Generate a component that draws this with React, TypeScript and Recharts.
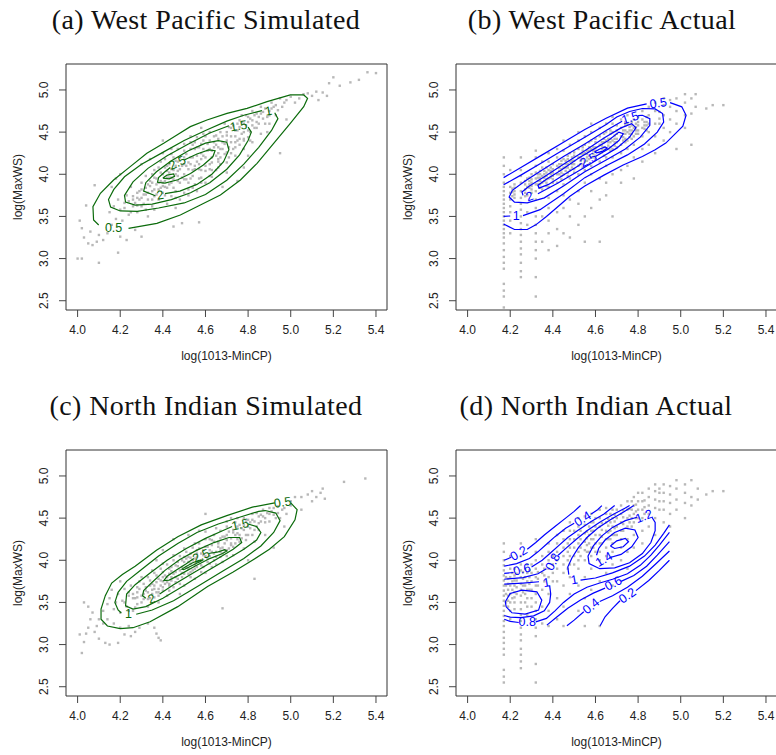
import React from 'react';
import { ScatterChart, Scatter, XAxis, YAxis, ReferenceArea } from 'recharts';

type Pt = [number, number];
type Lbl = [number, number, string, number];

const X_TICKS = [4.0, 4.2, 4.4, 4.6, 4.8, 5.0, 5.2, 5.4];
const Y_TICKS = [2.5, 3.0, 3.5, 4.0, 4.5, 5.0];
const X_DOMAIN: [number, number] = [3.9456, 5.4517];
const Y_DOMAIN: [number, number] = [2.39, 5.308];

const GREEN = '#0b6b0b';
const BLUE = '#0000ff';
const GREY = '#b8b8b8';
const SANS = '"Liberation Sans", Arial, Helvetica, sans-serif';

// (a) West Pacific simulated: storm points
const A_POINTS: Pt[] = [
  [4.0, 3.0], [4.02, 3.0], [4.1, 2.95], [4.03, 3.25], [4.05, 3.18], [4.07, 3.16], [4.09, 3.2], [4.12, 3.22], [4.19, 3.07],
  [4.01, 3.45], [4.04, 3.63], [4.08, 3.87], [4.02, 3.36], [4.06, 3.32], [4.1, 3.28], [4.14, 3.3], [4.16, 3.4], [4.18, 3.47],
  [4.2, 3.26], [4.23, 3.22], [4.27, 3.34], [4.3, 3.26],
  [4.15, 3.55], [4.17, 3.62], [4.19, 3.7], [4.2, 3.58], [4.22, 3.66], [4.23, 3.75], [4.24, 3.52], [4.18, 3.95], [4.2, 4.0],
  [4.16, 3.85], [4.25, 3.85], [4.26, 3.62], [4.21, 3.45],
  [4.28, 3.72], [4.29, 3.8], [4.3, 3.9], [4.31, 3.65], [4.32, 3.98], [4.33, 3.78], [4.34, 3.86], [4.35, 3.7], [4.36, 4.05],
  [4.3, 4.12], [4.28, 3.55], [4.33, 3.5], [4.36, 3.58], [4.34, 4.18],
  [4.38, 3.82], [4.39, 3.92], [4.4, 4.0], [4.41, 3.75], [4.42, 4.1], [4.43, 3.88], [4.44, 3.96], [4.45, 4.05], [4.46, 3.8],
  [4.47, 4.15], [4.4, 4.25], [4.44, 4.3], [4.48, 3.9], [4.42, 3.65], [4.46, 3.6], [4.49, 3.42], [4.45, 3.38], [4.4, 4.4],
  [4.37, 3.95], [4.41, 3.85], [4.43, 4.02], [4.47, 3.98], [4.39, 4.15], [4.45, 4.2],
  [4.5, 4.0], [4.51, 4.1], [4.52, 3.9], [4.53, 4.2], [4.54, 4.05], [4.55, 4.3], [4.56, 4.15], [4.57, 3.95], [4.58, 4.25],
  [4.59, 4.4], [4.6, 4.1], [4.52, 3.75], [4.56, 3.8], [4.6, 3.9], [4.53, 4.45], [4.57, 3.43], [4.58, 4.55],
  [4.5, 4.2], [4.54, 4.35], [4.58, 4.05], [4.55, 3.88],
  [4.62, 4.3], [4.63, 4.2], [4.64, 4.45], [4.65, 4.35], [4.66, 4.15], [4.67, 4.5], [4.68, 4.3], [4.69, 4.6], [4.7, 4.4],
  [4.71, 4.2], [4.72, 4.55], [4.65, 4.05], [4.68, 3.85], [4.63, 3.97], [4.7, 4.02], [4.62, 4.5], [4.66, 4.25],
  [4.74, 4.45], [4.75, 4.6], [4.76, 4.35], [4.77, 4.7], [4.78, 4.5], [4.8, 4.62], [4.81, 4.4], [4.82, 4.75], [4.83, 4.55],
  [4.85, 4.68], [4.86, 4.8], [4.75, 3.92], [4.8, 4.22], [4.78, 4.08],
  [4.88, 4.6], [4.9, 4.75], [4.91, 4.85], [4.93, 4.7], [4.95, 4.9], [4.96, 4.8], [4.98, 4.88], [5.0, 4.92], [5.02, 4.85],
  [4.95, 4.25], [4.98, 4.65], [5.04, 4.9], [5.06, 4.95], [4.89, 4.5],
  [5.08, 4.96], [5.1, 4.93], [5.12, 4.98], [5.15, 4.97], [5.17, 4.93], [5.18, 5.08], [5.2, 5.15], [5.23, 5.05],
  [5.28, 5.09], [5.32, 5.12], [5.36, 5.21], [5.4, 5.2], [5.13, 4.88],
  [4.22, 3.6], [4.24, 3.68], [4.26, 3.74], [4.27, 3.66], [4.29, 3.7], [4.3, 3.62], [4.31, 3.76], [4.32, 3.84], [4.33, 3.7],
  [4.34, 3.92], [4.35, 3.8], [4.36, 3.74], [4.37, 3.88], [4.38, 3.7], [4.39, 3.84], [4.4, 3.78], [4.41, 3.92], [4.42, 3.84],
  [4.43, 3.96], [4.44, 3.9], [4.45, 3.84], [4.46, 4.0], [4.47, 3.92], [4.48, 4.06], [4.49, 3.96], [4.5, 4.12], [4.51, 3.94],
  [4.52, 4.06], [4.53, 4.12], [4.54, 3.98], [4.55, 4.1], [4.56, 4.22], [4.57, 4.06], [4.58, 4.18], [4.59, 4.3], [4.6, 4.2],
  [4.61, 4.36], [4.62, 4.12], [4.63, 4.28], [4.64, 4.38], [4.65, 4.22], [4.66, 4.42], [4.67, 4.3], [4.68, 4.45], [4.69, 4.36],
  [4.7, 4.5], [4.71, 4.32], [4.72, 4.45], [4.73, 4.58], [4.74, 4.38], [4.75, 4.52], [4.76, 4.64], [4.77, 4.48], [4.78, 4.6],
  [4.79, 4.7], [4.8, 4.52], [4.81, 4.66], [4.82, 4.58], [4.83, 4.7], [4.84, 4.62], [4.86, 4.72], [4.87, 4.66], [4.88, 4.78],
  [4.9, 4.7], [4.92, 4.8], [4.94, 4.76], [4.97, 4.85], [4.3, 3.82], [4.36, 3.96], [4.42, 4.04], [4.46, 4.1], [4.5, 4.28],
  [4.55, 4.38], [4.6, 4.45], [4.52, 3.82], [4.58, 3.9], [4.62, 3.98], [4.66, 4.08], [4.7, 4.14], [4.74, 4.22], [4.78, 4.3],
  [4.82, 4.38], [4.86, 4.48], [4.9, 4.6], [4.25, 3.55], [4.28, 3.63], [4.32, 3.58], [4.35, 3.62], [4.4, 3.9], [4.44, 3.74],
  [4.48, 3.7], [4.53, 3.95], [4.57, 4.32], [4.63, 4.05], [4.67, 4.2], [4.72, 4.25], [4.76, 4.42], [4.8, 4.44], [4.84, 4.55],
  [4.26, 3.7], [4.28, 3.78], [4.3, 3.72], [4.32, 3.76], [4.33, 3.88], [4.35, 3.9], [4.36, 3.82], [4.37, 3.76], [4.38, 3.9],
  [4.39, 4.02], [4.4, 3.86], [4.41, 4.08], [4.42, 3.96], [4.43, 4.12], [4.44, 4.06], [4.45, 3.94], [4.46, 4.16], [4.47, 4.04],
  [4.48, 4.2], [4.49, 4.1], [4.5, 3.94], [4.51, 4.24], [4.52, 4.14], [4.53, 4.3], [4.54, 4.2], [4.55, 4.06], [4.56, 4.32],
  [4.57, 4.12], [4.58, 4.36], [4.59, 4.22], [4.6, 4.04], [4.61, 4.28], [4.62, 4.4], [4.63, 4.14], [4.64, 4.32], [4.65, 4.46],
  [4.66, 4.32], [4.67, 4.12], [4.68, 4.38], [4.69, 4.24], [4.7, 4.46], [4.71, 4.56], [4.72, 4.38], [4.73, 4.3], [4.74, 4.52],
  [4.75, 4.4], [4.76, 4.56], [4.77, 4.62], [4.78, 4.42], [4.79, 4.58], [4.8, 4.68], [4.81, 4.5], [4.82, 4.64], [4.84, 4.72],
  [4.85, 4.6], [4.87, 4.74], [4.89, 4.68], [4.91, 4.78], [4.93, 4.82], [4.35, 4.0], [4.38, 4.08], [4.41, 4.18], [4.44, 4.24],
  [4.47, 4.3], [4.5, 4.36], [4.53, 4.38], [4.56, 4.44], [4.59, 4.48], [4.46, 3.72], [4.5, 3.78], [4.54, 3.84], [4.58, 3.96],
  [4.62, 4.06], [4.66, 4.18], [4.7, 4.26], [4.74, 4.32], [4.78, 4.4],
];

// (a) density contours, levels 0.5 .. 3 (gaps where labels sit)
const A_LINES: Pt[][] = [
  [[4.239, 3.359], [4.372, 3.418], [4.482, 3.517], [4.576, 3.636], [4.67, 3.754], [4.764, 3.932], [4.842, 4.13], [4.92, 4.367],
    [4.998, 4.604], [5.061, 4.802], [5.079, 4.901], [5.061, 4.941], [4.998, 4.941], [4.889, 4.861], [4.795, 4.782], [4.701, 4.723],
    [4.607, 4.644], [4.529, 4.565], [4.466, 4.466], [4.404, 4.367], [4.325, 4.249], [4.247, 4.091], [4.169, 3.932], [4.107, 3.774],
    [4.072, 3.616], [4.075, 3.458], [4.099, 3.398]],
  [[4.865, 4.755], [4.78, 4.7], [4.7, 4.63], [4.6, 4.52], [4.5, 4.4], [4.4, 4.26], [4.3, 4.12], [4.22, 3.97], [4.17, 3.82],
    [4.145, 3.7], [4.155, 3.61], [4.2, 3.565], [4.28, 3.56], [4.38, 3.6], [4.5, 3.66], [4.6, 3.76], [4.7, 3.93], [4.78, 4.12],
    [4.85, 4.32], [4.91, 4.52], [4.94, 4.66], [4.925, 4.73]],
  [[4.71, 4.575], [4.62, 4.49], [4.52, 4.36], [4.42, 4.22], [4.33, 4.07], [4.26, 3.91], [4.22, 3.75], [4.225, 3.67], [4.27, 3.635],
    [4.35, 3.645], [4.44, 3.7], [4.53, 3.78], [4.62, 3.9], [4.7, 4.06], [4.76, 4.23], [4.8, 4.4], [4.815, 4.5], [4.8, 4.56]],
  [[4.41, 3.77], [4.48, 3.8], [4.56, 3.88], [4.63, 4.0], [4.685, 4.15], [4.71, 4.29], [4.7, 4.38], [4.66, 4.4], [4.6, 4.37],
    [4.52, 4.28], [4.44, 4.16], [4.37, 4.03], [4.32, 3.9], [4.31, 3.8], [4.365, 3.745]],
  [[4.5, 4.17], [4.56, 4.24], [4.615, 4.29], [4.645, 4.28], [4.635, 4.21], [4.59, 4.11], [4.53, 4.01], [4.47, 3.935], [4.41, 3.895],
    [4.375, 3.905], [4.38, 3.96], [4.41, 4.03], [4.435, 4.08]],
  [[4.4, 3.955], [4.42, 3.99], [4.45, 4.005], [4.455, 3.975], [4.43, 3.945], [4.4, 3.955]],
];
const A_LABELS: Lbl[] = [
  [4.169, 3.359, '0.5', 0], [4.896, 4.748, '1', -10], [4.756, 4.572, '1.5', -10], [4.388, 3.752, '2', -10], [4.468, 4.135, '2.5', -25],
];

// (b) West Pacific actual: points come in columns of identical x
const B_COLS: [number, number[]][] = [
  [4.17, [2.42, 2.55, 2.62, 2.7, 2.88, 2.95, 3.02, 3.1, 3.18, 3.25, 3.3, 3.35, 3.4, 3.45, 3.5, 3.55, 3.6, 3.65, 3.7, 3.75, 3.8, 3.85, 3.9, 4.0, 4.1, 4.2]],
  [4.2, [3.3, 3.45, 3.55, 3.62, 3.7, 3.78, 3.85, 4.05]],
  [4.22, [3.72, 3.76, 3.8, 3.84, 3.88]],
  [4.25, [2.78, 2.85, 2.95, 3.05, 3.12, 3.2, 3.28, 3.35, 3.42, 3.5, 3.58, 3.65, 3.72, 3.8, 3.9, 3.98, 4.05, 4.2]],
  [4.27, [3.74, 3.78, 3.82, 3.88, 3.92]],
  [4.28, [3.4, 3.55, 3.75, 3.85, 3.95]],
  [4.3, [3.78, 3.82, 3.86, 3.9, 3.94, 4.0]],
  [4.32, [2.55, 2.78, 3.0, 3.1, 3.2, 3.3, 3.4, 3.5, 3.6, 3.7, 3.8, 3.88, 3.95, 4.02, 4.1, 4.2, 4.28]],
  [4.34, [3.84, 3.88, 3.92, 3.96, 4.0, 4.04]],
  [4.35, [3.2, 3.5, 3.82, 3.9, 3.98, 4.08, 4.15]],
  [4.37, [3.86, 3.9, 3.94, 3.98, 4.02, 4.08]],
  [4.38, [3.1, 3.3, 3.45, 3.6, 3.72, 3.85, 3.95, 4.05, 4.15, 4.25]],
  [4.4, [3.9, 3.94, 3.98, 4.02, 4.06, 4.12]],
  [4.42, [3.15, 3.35, 3.55, 3.8, 3.9, 4.0, 4.1, 4.2, 4.3]],
  [4.44, [3.94, 3.98, 4.02, 4.06, 4.12, 4.16]],
  [4.45, [3.3, 3.6, 3.75, 3.88, 4.0, 4.08, 4.18, 4.28, 4.4]],
  [4.47, [3.98, 4.02, 4.08, 4.12, 4.18, 4.22]],
  [4.48, [3.25, 3.5, 3.7, 3.95, 4.05, 4.15, 4.25, 4.35]],
  [4.5, [4.02, 4.06, 4.12, 4.16, 4.22, 4.26]],
  [4.52, [3.4, 3.65, 3.8, 4.0, 4.1, 4.2, 4.3, 4.4, 4.5]],
  [4.54, [4.08, 4.12, 4.18, 4.24, 4.28, 4.32]],
  [4.55, [3.2, 3.5, 3.9, 4.05, 4.15, 4.25, 4.35, 4.45]],
  [4.57, [4.12, 4.18, 4.22, 4.28, 4.32, 4.38]],
  [4.58, [3.6, 3.8, 4.0, 4.1, 4.2, 4.3, 4.4, 4.5, 4.6]],
  [4.6, [4.18, 4.22, 4.28, 4.32, 4.38, 4.42]],
  [4.62, [3.2, 3.7, 3.95, 4.15, 4.25, 4.35, 4.45, 4.55]],
  [4.64, [4.22, 4.28, 4.32, 4.38, 4.42, 4.48]],
  [4.65, [3.75, 3.9, 4.1, 4.2, 4.3, 4.4, 4.5, 4.6]],
  [4.67, [4.28, 4.32, 4.38, 4.42, 4.48, 4.52]],
  [4.68, [3.5, 4.0, 4.2, 4.3, 4.4, 4.5, 4.6, 4.68]],
  [4.7, [4.32, 4.38, 4.42, 4.48, 4.52, 4.58]],
  [4.72, [3.9, 4.05, 4.25, 4.35, 4.45, 4.55, 4.65]],
  [4.74, [4.38, 4.42, 4.48, 4.52, 4.58, 4.62]],
  [4.75, [4.1, 4.3, 4.4, 4.5, 4.6, 4.7]],
  [4.77, [4.42, 4.48, 4.52, 4.58, 4.62]],
  [4.78, [3.95, 4.2, 4.35, 4.45, 4.55, 4.65]],
  [4.8, [4.48, 4.52, 4.58, 4.62, 4.68]],
  [4.82, [4.15, 4.3, 4.45, 4.55, 4.65, 4.75]],
  [4.84, [4.52, 4.58, 4.62, 4.68]],
  [4.85, [4.35, 4.5, 4.6, 4.7, 4.8]],
  [4.88, [4.25, 4.45, 4.6, 4.75, 4.85]],
  [4.9, [4.6, 4.66, 4.74]],
  [4.92, [4.4, 4.55, 4.7, 4.82, 4.9]],
  [4.95, [4.5, 4.65, 4.8, 4.88]],
  [4.98, [4.3, 4.6, 4.75, 4.9]],
  [5.02, [4.55, 4.7, 4.85, 4.95]],
  [5.05, [4.35, 4.72, 4.9]],
  [5.07, [4.8, 4.95]],
  [5.12, [4.78]],
  [5.15, [4.82]],
  [5.2, [4.82]],
];
// (b) the crowded band along the ridge
const B_BAND_COLS: [number, number[]][] = [
  [4.21, [3.74, 3.79, 3.83]], [4.29, [3.84, 3.88, 3.92, 3.96]], [4.33, [3.88, 3.92, 3.96, 4.0]], [4.36, [3.92, 3.96, 4.0, 4.04]],
  [4.39, [3.96, 4.0, 4.04, 4.08]], [4.43, [4.0, 4.04, 4.08, 4.12]], [4.46, [4.04, 4.08, 4.12, 4.16]], [4.49, [4.08, 4.12, 4.16, 4.2]],
  [4.53, [4.12, 4.16, 4.2, 4.24]], [4.56, [4.16, 4.2, 4.24, 4.28]], [4.59, [4.2, 4.24, 4.28, 4.32]], [4.63, [4.26, 4.3, 4.34, 4.38]],
  [4.66, [4.3, 4.34, 4.38, 4.42]], [4.69, [4.34, 4.38, 4.42, 4.46]], [4.73, [4.4, 4.44, 4.48, 4.52]], [4.76, [4.44, 4.48, 4.52, 4.56]],
  [4.79, [4.48, 4.52, 4.56, 4.6]], [4.83, [4.54, 4.58, 4.62]],
];

const B_LINES: Pt[][] = [
  [[4.169, 3.96], [4.25, 4.08], [4.35, 4.23], [4.45, 4.38], [4.55, 4.53], [4.65, 4.665], [4.75, 4.785], [4.84, 4.835]],
  [[4.95, 4.85], [5.005, 4.8], [5.025, 4.7], [5.01, 4.57], [4.97, 4.47], [4.93, 4.37], [4.88, 4.29], [4.82, 4.21], [4.73, 4.11],
    [4.64, 3.99], [4.55, 3.86], [4.48, 3.74], [4.43, 3.63], [4.37, 3.5], [4.32, 3.4], [4.28, 3.345], [4.22, 3.345], [4.169, 3.41]],
  [[4.169, 3.5], [4.2, 3.505]],
  [[4.26, 3.51], [4.34, 3.58], [4.45, 3.77], [4.55, 3.96], [4.65, 4.1], [4.75, 4.23], [4.83, 4.36], [4.89, 4.5], [4.92, 4.62],
    [4.915, 4.72], [4.88, 4.775], [4.82, 4.78], [4.76, 4.745], [4.7, 4.68], [4.65, 4.59], [4.55, 4.44], [4.45, 4.29], [4.35, 4.14],
    [4.25, 3.99], [4.169, 3.875]],
  [[4.725, 4.63], [4.65, 4.52], [4.55, 4.36], [4.45, 4.21], [4.35, 4.05], [4.27, 3.92], [4.21, 3.81], [4.195, 3.73], [4.22, 3.67],
    [4.28, 3.66], [4.36, 3.72], [4.45, 3.86], [4.55, 4.03], [4.65, 4.17], [4.74, 4.3], [4.81, 4.44], [4.855, 4.58], [4.855, 4.66],
    [4.82, 4.7], [4.8, 4.695]],
  [[4.33, 3.77], [4.42, 3.89], [4.52, 4.04], [4.62, 4.19], [4.7, 4.31], [4.76, 4.44], [4.79, 4.55], [4.77, 4.6], [4.72, 4.55],
    [4.64, 4.43], [4.55, 4.28], [4.45, 4.12], [4.36, 3.97], [4.29, 3.86], [4.255, 3.79], [4.26, 3.75]],
  [[4.6, 4.21], [4.66, 4.3], [4.71, 4.4], [4.73, 4.48], [4.71, 4.5], [4.66, 4.4], [4.6, 4.31], [4.52, 4.19], [4.44, 4.05],
    [4.37, 3.94], [4.33, 3.87], [4.335, 3.835], [4.38, 3.88], [4.45, 3.99], [4.52, 4.1], [4.535, 4.13]],
  [[4.595, 4.265], [4.62, 4.3], [4.645, 4.325], [4.655, 4.31], [4.635, 4.275], [4.605, 4.255], [4.595, 4.265]],
];
const B_LABELS: Lbl[] = [
  [4.895, 4.842, '0.5', -8], [4.228, 3.51, '1', 0], [4.763, 4.668, '1.5', -18], [4.291, 3.735, '2', -20], [4.567, 4.17, '2.5', -28],
];

// (c) North Indian simulated
const C_POINTS: Pt[] = [
  [4.02, 2.9], [4.03, 3.03], [4.01, 3.12], [4.04, 3.13], [4.05, 3.2], [4.08, 3.15], [4.1, 3.07], [4.13, 3.02], [4.15, 3.0],
  [4.19, 3.02], [4.03, 3.5], [4.05, 3.45], [4.07, 3.38], [4.06, 3.3], [4.1, 3.3], [4.09, 3.22], [4.12, 3.25], [4.14, 3.3],
  [4.17, 3.25], [4.2, 3.2], [4.22, 3.12], [4.25, 3.1], [4.27, 3.15], [4.24, 3.22], [4.29, 3.2], [4.33, 3.25], [4.37, 3.13],
  [4.38, 3.08], [4.39, 3.05], [4.36, 3.2],
  [4.12, 3.4], [4.14, 3.48], [4.15, 3.55], [4.17, 3.42], [4.18, 3.5], [4.19, 3.6], [4.2, 3.38], [4.21, 3.52], [4.22, 3.66],
  [4.23, 3.45], [4.24, 3.58], [4.25, 3.7], [4.26, 3.4], [4.27, 3.55], [4.28, 3.62], [4.29, 3.75], [4.3, 3.5], [4.2, 3.75],
  [4.16, 3.65],
  [4.31, 3.6], [4.32, 3.68], [4.33, 3.8], [4.34, 3.55], [4.35, 3.72], [4.36, 3.85], [4.37, 3.62], [4.38, 3.78], [4.39, 3.9],
  [4.4, 3.68], [4.41, 3.82], [4.42, 3.95], [4.43, 3.72], [4.44, 3.87], [4.45, 4.0], [4.33, 3.45], [4.38, 3.5], [4.42, 3.58],
  [4.37, 4.0], [4.4, 4.12], [4.45, 4.25], [4.35, 3.65], [4.4, 3.75], [4.44, 3.8],
  [4.46, 3.8], [4.47, 3.93], [4.48, 4.05], [4.49, 3.85], [4.5, 3.98], [4.51, 4.1], [4.52, 3.9], [4.53, 4.03], [4.54, 4.15],
  [4.55, 3.95], [4.56, 4.08], [4.57, 4.2], [4.58, 4.0], [4.59, 4.12], [4.6, 4.25], [4.5, 3.7], [4.55, 3.78], [4.6, 3.85],
  [4.52, 4.3], [4.57, 4.35], [4.6, 4.55], [4.48, 3.6], [4.53, 3.86], [4.56, 3.92], [4.51, 4.02],
  [4.62, 4.05], [4.63, 4.18], [4.64, 4.3], [4.65, 4.1], [4.66, 4.22], [4.67, 4.35], [4.68, 4.15], [4.69, 4.28], [4.7, 4.4],
  [4.72, 4.2], [4.73, 4.33], [4.74, 4.45], [4.75, 4.25], [4.65, 3.95], [4.7, 4.05], [4.68, 3.43], [4.72, 4.5],
  [4.77, 4.38], [4.78, 4.5], [4.8, 4.3], [4.81, 4.45], [4.82, 4.55], [4.84, 4.4], [4.85, 4.52], [4.87, 4.6], [4.88, 4.45],
  [4.9, 4.55], [4.92, 4.62], [4.93, 4.5], [4.95, 4.5], [4.83, 3.78], [4.8, 4.0], [4.92, 4.15], [4.97, 4.4],
  [4.97, 4.62], [5.0, 4.65], [5.0, 4.7], [5.02, 4.75], [5.05, 4.6], [5.05, 4.75], [5.08, 4.78], [5.1, 4.82], [5.1, 4.7],
  [5.12, 4.75], [5.14, 4.8], [5.15, 4.85], [5.16, 4.73], [5.25, 4.93], [5.35, 4.97],
  [4.22, 3.5], [4.24, 3.62], [4.26, 3.55], [4.28, 3.68], [4.3, 3.58], [4.31, 3.72], [4.32, 3.64], [4.34, 3.76], [4.35, 3.6],
  [4.36, 3.7], [4.37, 3.82], [4.38, 3.66], [4.39, 3.76], [4.4, 3.86], [4.41, 3.72], [4.42, 3.8], [4.43, 3.9], [4.44, 3.76],
  [4.45, 3.84], [4.46, 3.94], [4.47, 3.78], [4.48, 3.88], [4.49, 4.0], [4.5, 3.84], [4.51, 3.92], [4.52, 4.04], [4.53, 3.96],
  [4.54, 3.88], [4.55, 4.02], [4.56, 4.12], [4.57, 3.98], [4.58, 4.08], [4.59, 3.92], [4.6, 4.05], [4.61, 4.16], [4.62, 3.96],
  [4.63, 4.1], [4.64, 4.22], [4.65, 4.04], [4.66, 4.16], [4.67, 4.26], [4.68, 4.08], [4.69, 4.2], [4.7, 4.3], [4.71, 4.14],
  [4.72, 4.26], [4.73, 4.36], [4.74, 4.2], [4.75, 4.32], [4.76, 4.42], [4.77, 4.26], [4.78, 4.36], [4.79, 4.46], [4.8, 4.4],
  [4.82, 4.48], [4.83, 4.36], [4.85, 4.44], [4.86, 4.54], [4.88, 4.5], [4.9, 4.46], [4.91, 4.58], [4.94, 4.56], [4.96, 4.6],
  [4.98, 4.55], [4.28, 3.48], [4.33, 3.54], [4.38, 3.58], [4.43, 3.64], [4.48, 3.72], [4.53, 3.8], [4.58, 3.86], [4.63, 3.92],
  [4.68, 3.98], [4.73, 4.06], [4.78, 4.14], [4.83, 4.22], [4.88, 4.3], [4.3, 3.8], [4.35, 3.88], [4.4, 3.96], [4.45, 4.06],
  [4.5, 4.14], [4.55, 4.2], [4.6, 4.34], [4.65, 4.38], [4.7, 4.46], [4.75, 4.5], [4.24, 3.4], [4.27, 3.44], [4.45, 3.68],
  [4.62, 4.25], [4.67, 4.04],
  [4.26, 3.6], [4.28, 3.56], [4.29, 3.66], [4.31, 3.54], [4.33, 3.62], [4.34, 3.7], [4.36, 3.66], [4.37, 3.74], [4.39, 3.7],
  [4.4, 3.8], [4.42, 3.74], [4.43, 3.84], [4.44, 3.92], [4.46, 3.86], [4.47, 3.98], [4.49, 3.92], [4.5, 4.04], [4.52, 3.98],
  [4.53, 4.08], [4.54, 4.0], [4.56, 4.04], [4.57, 4.14], [4.59, 4.06], [4.6, 4.16], [4.61, 4.02], [4.62, 4.12], [4.63, 4.24],
  [4.64, 4.08], [4.66, 4.2], [4.67, 4.14], [4.68, 4.28], [4.69, 4.12], [4.7, 4.24], [4.71, 4.34], [4.72, 4.18], [4.74, 4.3],
  [4.75, 4.4], [4.76, 4.3], [4.78, 4.42], [4.79, 4.3], [4.8, 4.48], [4.81, 4.38], [4.83, 4.46], [4.84, 4.56], [4.86, 4.46],
  [4.87, 4.52], [4.89, 4.56], [4.9, 4.62], [4.92, 4.54], [4.94, 4.64], [4.46, 3.74], [4.49, 3.8], [4.52, 3.84], [4.55, 3.9],
  [4.58, 3.94], [4.61, 3.98], [4.64, 4.0], [4.67, 4.1], [4.7, 4.12], [4.73, 4.16], [4.76, 4.22], [4.79, 4.24], [4.82, 4.3],
  [4.85, 4.36], [4.4, 3.64], [4.43, 3.7], [4.36, 3.56], [4.38, 3.62],
];

const C_LINES: Pt[][] = [
  [[5.0, 4.68], [5.03, 4.6], [5.02, 4.48], [4.97, 4.28], [4.9, 4.13], [4.82, 4.0], [4.73, 3.86], [4.61, 3.69], [4.47, 3.45],
    [4.34, 3.27], [4.26, 3.2], [4.2, 3.19], [4.14, 3.22], [4.11, 3.3], [4.11, 3.42], [4.13, 3.58], [4.16, 3.73], [4.21, 3.83],
    [4.27, 3.93], [4.37, 4.12], [4.47, 4.28], [4.58, 4.42], [4.7, 4.53], [4.82, 4.63], [4.925, 4.68]],
  [[4.275, 3.36], [4.35, 3.41], [4.45, 3.52], [4.57, 3.7], [4.68, 3.87], [4.78, 4.02], [4.86, 4.17], [4.92, 4.33], [4.95, 4.47],
    [4.93, 4.56], [4.88, 4.59], [4.85, 4.58], [4.76, 4.51], [4.66, 4.43], [4.56, 4.33], [4.47, 4.2], [4.38, 4.05], [4.3, 3.89],
    [4.23, 3.75], [4.19, 3.62], [4.175, 3.5], [4.19, 3.41], [4.205, 3.375]],
  [[4.8, 4.43], [4.84, 4.4], [4.86, 4.33], [4.84, 4.24], [4.78, 4.13], [4.7, 4.01], [4.6, 3.86], [4.5, 3.7], [4.4, 3.55],
    [4.32, 3.45], [4.26, 3.42], [4.225, 3.46], [4.23, 3.6], [4.27, 3.71], [4.34, 3.85], [4.42, 4.0], [4.51, 4.14], [4.6, 4.26],
    [4.68, 4.35], [4.725, 4.4]],
  [[4.385, 3.6], [4.45, 3.71], [4.55, 3.86], [4.65, 4.01], [4.73, 4.13], [4.77, 4.21], [4.76, 4.27], [4.71, 4.27], [4.64, 4.21],
    [4.56, 4.12], [4.48, 4.01], [4.41, 3.88], [4.35, 3.74], [4.31, 3.64], [4.305, 3.58], [4.32, 3.55]],
  [[4.615, 4.08], [4.66, 4.1], [4.69, 4.125], [4.7, 4.11], [4.68, 4.08], [4.62, 4.02], [4.55, 3.93], [4.48, 3.83], [4.43, 3.765],
    [4.405, 3.76], [4.42, 3.81], [4.46, 3.88], [4.51, 3.96], [4.545, 4.02]],
  [[4.5, 3.89], [4.54, 3.94], [4.575, 3.985], [4.585, 4.0], [4.57, 4.0], [4.54, 3.97], [4.505, 3.92], [4.49, 3.895], [4.5, 3.89]],
];
const C_LABELS: Lbl[] = [
  [4.962, 4.684, '0.5', -8], [4.239, 3.36, '1', 0], [4.763, 4.422, '1.5', -12], [4.348, 3.54, '2', -20], [4.58, 4.05, '2.5', -25],
];

// (d) North Indian actual
const D_COLS: [number, number[]][] = [
  [4.17, [2.55, 2.62, 2.7, 2.88, 2.95, 3.02, 3.08, 3.15, 3.22, 3.28, 3.34, 3.4, 3.46, 3.52, 3.58, 3.64, 3.7, 3.76, 3.82, 3.88, 3.94, 4.0, 4.1, 4.2]],
  [4.19, [3.45, 3.52, 3.58, 3.65, 3.72, 3.78]],
  [4.2, [3.3, 3.4, 3.5, 3.6, 3.7, 3.8, 3.9, 4.05]],
  [4.22, [3.42, 3.5, 3.56, 3.62, 3.7, 3.76, 3.82, 3.9]],
  [4.25, [2.72, 2.8, 2.88, 2.95, 3.05, 3.12, 3.2, 3.28, 3.35, 3.42, 3.5, 3.58, 3.65, 3.72, 3.8, 3.88, 3.95, 4.05, 4.2]],
  [4.27, [3.5, 3.6, 3.7, 3.8, 3.9]],
  [4.28, [3.35, 3.45, 3.55, 3.65, 3.75, 3.85, 3.95]],
  [4.3, [3.45, 3.55, 3.65, 3.75, 3.85, 3.95]],
  [4.32, [2.55, 2.77, 3.1, 3.2, 3.3, 3.4, 3.5, 3.6, 3.7, 3.8, 3.9, 4.0, 4.1, 4.25]],
  [4.35, [3.25, 3.45, 3.65, 3.85, 3.95, 4.05]],
  [4.38, [3.22, 3.4, 3.6, 3.8, 3.9, 4.0, 4.1, 4.2]],
  [4.4, [3.75, 3.85, 3.95, 4.05]],
  [4.42, [3.3, 3.55, 3.75, 3.9, 4.0, 4.1, 4.2, 4.3]],
  [4.45, [3.22, 3.45, 3.7, 3.85, 3.95, 4.05, 4.15, 4.25, 4.35]],
  [4.47, [3.9, 4.0, 4.1, 4.2]],
  [4.48, [3.6, 3.8, 3.95, 4.05, 4.15, 4.25, 4.35, 4.45]],
  [4.5, [3.95, 4.05, 4.15, 4.25, 4.35]],
  [4.52, [3.4, 3.7, 3.9, 4.0, 4.1, 4.2, 4.3, 4.4, 4.5]],
  [4.55, [3.22, 3.55, 3.8, 4.0, 4.12, 4.22, 4.32, 4.42, 4.52]],
  [4.57, [4.1, 4.2, 4.3, 4.4]],
  [4.58, [3.65, 3.9, 4.05, 4.15, 4.25, 4.35, 4.45, 4.55]],
  [4.6, [4.1, 4.2, 4.3, 4.4, 4.5]],
  [4.62, [3.22, 3.75, 4.0, 4.1, 4.2, 4.3, 4.4, 4.5, 4.6]],
  [4.65, [3.85, 4.05, 4.15, 4.25, 4.35, 4.45, 4.55, 4.62]],
  [4.67, [4.25, 4.35, 4.45, 4.55]],
  [4.68, [3.7, 3.95, 4.1, 4.2, 4.3, 4.4, 4.5, 4.6]],
  [4.7, [4.3, 4.4, 4.5, 4.6]],
  [4.72, [4.0, 4.15, 4.25, 4.35, 4.45, 4.55, 4.65]],
  [4.75, [3.9, 4.1, 4.25, 4.4, 4.5, 4.6, 4.7]],
  [4.77, [4.4, 4.5, 4.6, 4.7]],
  [4.78, [4.15, 4.3, 4.45, 4.55, 4.65, 4.75]],
  [4.8, [4.5, 4.6, 4.7, 4.8]],
  [4.82, [4.2, 4.35, 4.5, 4.6, 4.7, 4.8]],
  [4.85, [4.4, 4.55, 4.65, 4.75, 4.85]],
  [4.88, [4.3, 4.5, 4.62, 4.72, 4.82, 4.9]],
  [4.9, [4.6, 4.7, 4.8, 4.85]],
  [4.92, [4.45, 4.6, 4.7, 4.8, 4.9]],
  [4.95, [4.4, 4.55, 4.68, 4.78, 4.88]],
  [4.98, [4.6, 4.72, 4.85, 4.95]],
  [5.02, [4.5, 4.68, 4.8, 4.9]],
  [5.05, [4.65, 4.75, 4.95]],
  [5.08, [4.72, 4.85]],
  [5.12, [4.78]],
  [5.15, [4.82]],
  [5.2, [4.82]],
];
// (d) crowded parts round the two modes
const D_BAND_COLS: [number, number[]][] = [
  [4.18, [3.5, 3.6, 3.7, 3.8]], [4.21, [3.55, 3.65, 3.75, 3.85]], [4.23, [3.6, 3.68, 3.76, 3.84]], [4.26, [3.62, 3.7, 3.78, 3.86]],
  [4.29, [3.65, 3.72, 3.8, 3.88]], [4.33, [3.7, 3.78, 3.86]], [4.36, [3.75, 3.82, 3.9]], [4.53, [4.05, 4.15, 4.25, 4.35]],
  [4.56, [4.1, 4.18, 4.26, 4.34]], [4.59, [4.15, 4.25, 4.35, 4.45]], [4.63, [4.2, 4.28, 4.36, 4.44]], [4.66, [4.25, 4.33, 4.41, 4.49]],
  [4.69, [4.3, 4.38, 4.46, 4.54]], [4.73, [4.35, 4.43, 4.51, 4.59]], [4.76, [4.45, 4.53, 4.61]], [4.79, [4.5, 4.58, 4.66]],
  [4.83, [4.55, 4.63, 4.71]],
];

const D_LINES: Pt[][] = [
  // 0.2 upper
  [[4.172, 4.0], [4.205, 4.035]],
  [[4.28, 4.13], [4.32, 4.21], [4.36, 4.3], [4.41, 4.4], [4.46, 4.5], [4.5, 4.58], [4.53, 4.649]],
  // 0.4 upper
  [[4.172, 3.93], [4.23, 3.96], [4.29, 4.02], [4.33, 4.1], [4.37, 4.19], [4.41, 4.28], [4.46, 4.38], [4.5, 4.44]],
  [[4.58, 4.55], [4.61, 4.6], [4.63, 4.649]],
  // 0.6 upper
  [[4.172, 3.845], [4.215, 3.855]],
  [[4.3, 3.92], [4.35, 4.0], [4.39, 4.09], [4.43, 4.18], [4.47, 4.27], [4.52, 4.36], [4.58, 4.46], [4.64, 4.55], [4.69, 4.649]],
  // 0.8 upper
  [[4.172, 3.775], [4.26, 3.795], [4.33, 3.84], [4.37, 3.9]],
  [[4.425, 4.06], [4.465, 4.15], [4.51, 4.25], [4.56, 4.35], [4.62, 4.45], [4.68, 4.54], [4.74, 4.62], [4.76, 4.649]],
  // 0.8 lower
  [[4.172, 3.3], [4.2, 3.275], [4.24, 3.262]],
  [[4.32, 3.27], [4.37, 3.31], [4.41, 3.4], [4.45, 3.5], [4.5, 3.6], [4.56, 3.68], [4.62, 3.73], [4.68, 3.775], [4.75, 3.84],
    [4.81, 3.94], [4.86, 4.06], [4.9, 4.18], [4.947, 4.33]],
  // 0.6 lower
  [[4.372, 3.231], [4.42, 3.33], [4.47, 3.43], [4.53, 3.53], [4.59, 3.61], [4.645, 3.67]],
  [[4.72, 3.75], [4.78, 3.82], [4.84, 3.93], [4.89, 4.06], [4.947, 4.22]],
  // 0.4 lower
  [[4.466, 3.223], [4.5, 3.29], [4.545, 3.39]],
  [[4.62, 3.51], [4.68, 3.58], [4.75, 3.68], [4.82, 3.81], [4.88, 3.95], [4.947, 4.11]],
  // 0.2 lower
  [[4.622, 3.223], [4.645, 3.33], [4.68, 3.43], [4.715, 3.52]],
  [[4.79, 3.64], [4.85, 3.76], [4.9, 3.88], [4.947, 4.0]],
  // 1.0 and 1.2 round the left mode
  [[4.172, 3.717], [4.26, 3.73], [4.335, 3.745]],
  [[4.385, 3.7], [4.39, 3.6], [4.385, 3.5], [4.36, 3.4], [4.31, 3.34], [4.25, 3.32], [4.2, 3.325], [4.172, 3.345]],
  [[4.177, 3.508], [4.2, 3.606], [4.255, 3.646], [4.325, 3.626], [4.348, 3.527], [4.333, 3.409], [4.27, 3.362], [4.208, 3.377],
    [4.181, 3.448], [4.177, 3.508]],
  // 1.0, 1.2, 1.4, 1.6 round the right mode
  [[4.78, 4.649], [4.73, 4.57], [4.67, 4.48], [4.61, 4.38], [4.56, 4.27], [4.52, 4.15], [4.49, 4.03], [4.47, 3.92], [4.475, 3.83]],
  [[4.53, 3.765], [4.6, 3.79], [4.68, 3.85], [4.76, 3.93], [4.83, 4.05], [4.88, 4.18], [4.92, 4.32], [4.947, 4.42]],
  [[4.795, 4.51], [4.74, 4.47], [4.68, 4.39], [4.63, 4.29], [4.59, 4.17], [4.565, 4.05], [4.57, 3.96], [4.62, 3.9], [4.69, 3.91],
    [4.76, 3.97], [4.82, 4.08], [4.86, 4.21], [4.88, 4.35], [4.88, 4.45], [4.865, 4.51]],
  [[4.665, 4.03], [4.72, 4.07], [4.77, 4.16], [4.8, 4.27], [4.785, 4.36], [4.74, 4.38], [4.69, 4.33], [4.645, 4.24], [4.615, 4.14],
    [4.605, 4.06]],
  [[4.67, 4.17], [4.7, 4.23], [4.74, 4.26], [4.755, 4.22], [4.73, 4.16], [4.69, 4.14], [4.67, 4.17]],
];
const D_LABELS: Lbl[] = [
  [4.24, 4.08, '0.2', -30], [4.54, 4.49, '0.4', -32], [4.255, 3.89, '0.6', -15], [4.4, 3.98, '0.8', -62],
  [4.37, 3.735, '1', -10], [4.5, 3.765, '1', -10], [4.828, 4.52, '1.2', -20], [4.64, 4.01, '1.4', -30],
  [4.684, 3.725, '0.6', -28], [4.58, 3.455, '0.4', -40], [4.75, 3.58, '0.2', -35], [4.28, 3.262, '0.8', 0],
];

const fromCols = (cols: [number, number[]][]): Pt[] => cols.flatMap(([x, ys]) => ys.map((y) => [x, y] as Pt));

const renderXTick = (p: any) => (
  <text x={p.x} y={p.y} dy="0.71em" textAnchor="middle" fontSize={12} fontFamily={SANS} fill="#222">
    {Number(p.payload.value).toFixed(1)}
  </text>
);

const renderYTick = (p: any) => (
  <text x={p.x} y={p.y} transform={`rotate(-90, ${p.x}, ${p.y})`} textAnchor="middle" fontSize={12} fontFamily={SANS} fill="#222">
    {Number(p.payload.value).toFixed(1)}
  </text>
);

const renderXLabel = (p: any) => {
  const vb = p.viewBox || {};
  return (
    <text x={vb.x + vb.width / 2} y={vb.y + 50} textAnchor="middle" fontSize={12} fontFamily={SANS} fill="#222">
      log(1013-MinCP)
    </text>
  );
};

const renderYLabel = (p: any) => {
  const vb = p.viewBox || {};
  const x = vb.x + vb.width - 44;
  const y = vb.y + vb.height / 2;
  return (
    <text x={x} y={y} transform={`rotate(-90, ${x}, ${y})`} textAnchor="middle" fontSize={12} fontFamily={SANS} fill="#222">
      log(MaxWS)
    </text>
  );
};

const renderDot = (p: any) => <rect x={p.cx - 1.2} y={p.cy - 1.2} width={2.4} height={2.4} fill={GREY} />;
const renderNone = () => <g />;

function Panel({ title, titleLeft, left, top, points, lines, labels, color }: any) {
  const pts = points.map(([x, y]: Pt) => ({ x, y }));
  const lbls = labels.map(([x, y, t, a]: Lbl) => ({ x, y, t, a }));
  const renderLabel = (p: any) => {
    const d = p.payload || p;
    return (
      <text x={p.cx} y={p.cy} transform={`rotate(${d.a}, ${p.cx}, ${p.cy})`} textAnchor="middle" dominantBaseline="central"
        fontSize={12.5} fontFamily={SANS} fill={color}>
        {d.t}
      </text>
    );
  };
  return (
    <div style={{ position: 'absolute', left, top, width: 390, height: 386 }}>
      <div style={{ position: 'absolute', left: titleLeft, top: 6, width: 390, textAlign: 'center', whiteSpace: 'nowrap',
        fontFamily: '"Liberation Serif", "Times New Roman", serif', fontSize: 28, letterSpacing: '0.4px', lineHeight: '28px',
        color: '#111' }}>
        {title}
      </div>
      <ScatterChart width={390} height={386} margin={{ top: 64, right: 3, bottom: 26, left: 6 }}>
        <XAxis type="number" dataKey="x" domain={X_DOMAIN} ticks={X_TICKS} allowDataOverflow interval={0} axisLine={false}
          tickLine={{ stroke: '#444' }} tickSize={7} tickMargin={8} height={50} tick={renderXTick} label={renderXLabel} />
        <YAxis type="number" dataKey="y" domain={Y_DOMAIN} ticks={Y_TICKS} allowDataOverflow interval={0} axisLine={false}
          tickLine={{ stroke: '#444' }} tickSize={7} tickMargin={11} width={60} tick={renderYTick} label={renderYLabel} />
        <Scatter data={pts} shape={renderDot} isAnimationActive={false} />
        {lines.map((ln: Pt[], i: number) => (
          <Scatter key={i} data={ln.map(([x, y]) => ({ x, y }))} line={{ stroke: color, strokeWidth: 1.2 }} lineType="joint"
            shape={renderNone} isAnimationActive={false} />
        ))}
        <Scatter data={lbls} shape={renderLabel} isAnimationActive={false} />
        <ReferenceArea x1={X_DOMAIN[0]} x2={X_DOMAIN[1]} y1={Y_DOMAIN[0]} y2={Y_DOMAIN[1]} fill="none" fillOpacity={0}
          stroke="#333" strokeWidth={1} ifOverflow="visible" />
      </ScatterChart>
    </div>
  );
}

export default function App() {
  return (
    <div style={{ position: 'absolute', left: 0, top: 0, width: 776, height: 755, overflow: 'hidden', background: '#fff' }}>
      <Panel title="(a) West Pacific Simulated" titleLeft={11} left={0} top={0} points={A_POINTS} lines={A_LINES} labels={A_LABELS} color={GREEN} />
      <Panel title="(b) West Pacific Actual" titleLeft={17} left={390} top={0} points={fromCols([...B_COLS, ...B_BAND_COLS])}
        lines={B_LINES} labels={B_LABELS} color={BLUE} />
      <Panel title="(c) North Indian Simulated" titleLeft={11} left={0} top={386} points={C_POINTS} lines={C_LINES} labels={C_LABELS} color={GREEN} />
      <Panel title="(d) North Indian Actual" titleLeft={11} left={390} top={386} points={fromCols([...D_COLS, ...D_BAND_COLS])}
        lines={D_LINES} labels={D_LABELS} color={BLUE} />
    </div>
  );
}
